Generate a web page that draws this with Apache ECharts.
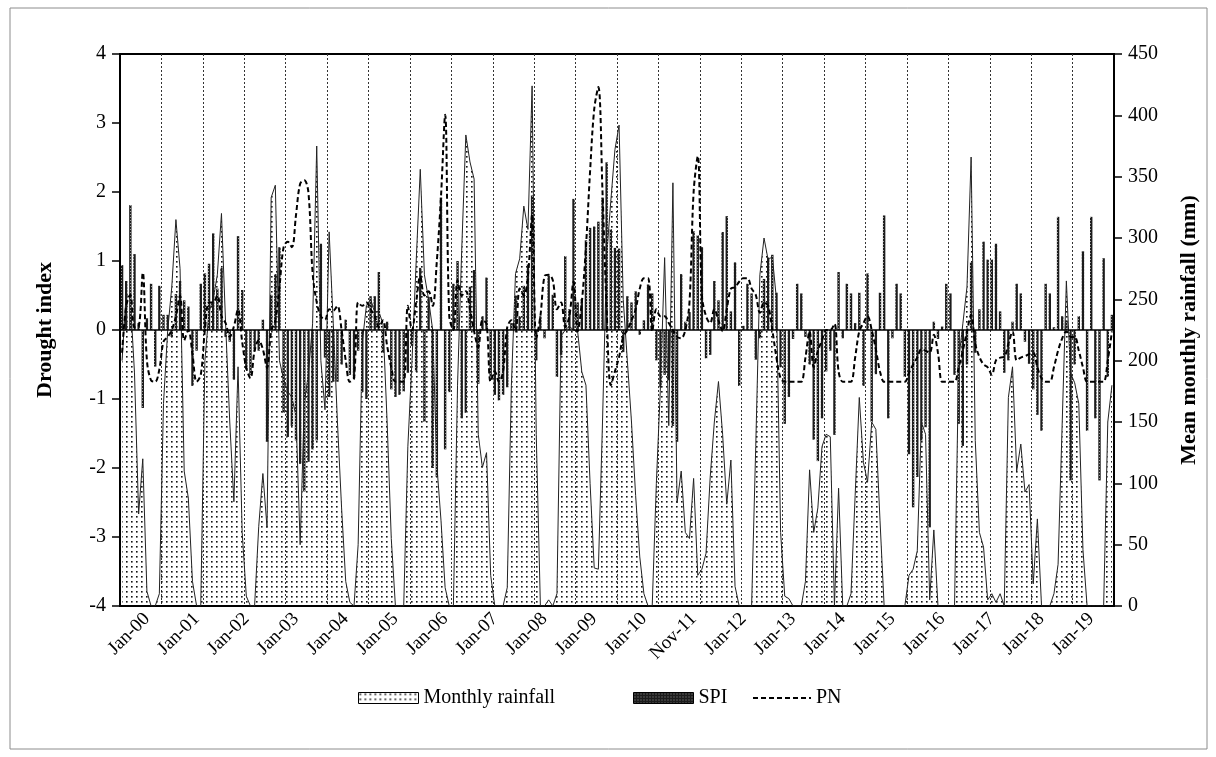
<!DOCTYPE html>
<html>
<head>
<meta charset="utf-8">
<script src="https://cdn.jsdelivr.net/npm/echarts@6/dist/echarts.min.js"></script>
<style>
  html, body { margin: 0; padding: 0; background: #fff; }
  #chart { width: 1216px; height: 757px; }
</style>
</head>
<body>
<div id="chart"></div>
<script>
// tick labels shown once a year (as printed on the original)
const tickLabels = ['Jan-00', 'Jan-01', 'Jan-02', 'Jan-03', 'Jan-04', 'Jan-05', 'Jan-06', 'Jan-07',
    'Jan-08', 'Jan-09', 'Jan-10', 'Nov-11', 'Jan-12', 'Jan-13', 'Jan-14', 'Jan-15', 'Jan-16',
    'Jan-17', 'Jan-18', 'Jan-19'];

// mean monthly rainfall (mm), Jan 2000 .. Dec 2019
const rainfall = [
    200, 255, 250, 190, 75, 120, 12, 0, 0, 10, 165, 224,
    260, 315, 275, 110, 88, 20, 0, 0, 200, 240, 250, 270,
    320, 230, 150, 85, 195, 60, 8, 0, 0, 65, 108, 64,
    333, 343, 200, 185, 175, 170, 155, 50, 165, 190, 230, 375,
    200, 160, 305, 230, 150, 80, 20, 3, 0, 50, 215, 245,
    250, 240, 240, 230, 150, 55, 0, 0, 0, 130, 200, 280,
    356, 270, 250, 225, 115, 70, 15, 0, 0, 180, 290, 384,
    362, 348, 140, 113, 125, 25, 0, 0, 0, 15, 180, 271,
    283, 326, 307, 424, 140, 0, 0, 5, 0, 10, 220, 225,
    228, 225, 224, 191, 180, 100, 31, 30, 150, 285, 330, 372,
    392, 250, 200, 150, 90, 40, 10, 0, 0, 100, 180, 284,
    147, 345, 84, 110, 60, 55, 104, 25, 30, 43, 105, 150,
    183, 140, 83, 119, 16, 0, 0, 0, 0, 130, 270, 300,
    282, 285, 250, 60, 8, 6, 0, 0, 0, 20, 111, 60,
    80, 130, 140, 138, 0, 96, 0, 0, 10, 90, 170, 117,
    101, 150, 144, 70, 0, 0, 0, 0, 0, 0, 25, 30,
    45, 150, 140, 5, 62, 0, 0, 0, 0, 0, 200, 230,
    260, 366, 135, 60, 48, 5, 10, 3, 10, 0, 170, 195,
    110, 132, 93, 99, 18, 71, 0, 0, 0, 10, 34, 150,
    265, 190, 182, 165, 46, 0, 0, 0, 0, 0, 150, 180
];

// SPI
const spi = [
    0.94, 0.71, 1.81, 1.10, 0.10, -1.13, 0.17, 0.67, -0.53, 0.64, 0.22, 0.22,
    -0.1, 0.52, 0.71, 0.43, 0.34, -0.81, -0.3, 0.67, 0.82, 0.96, 1.40, 0.6,
    0.9, -0.1, -0.17, -0.72, 1.36, 0.58, -0.57, -0.65, -0.3, -0.3, 0.15, -1.62,
    0.51, 0.81, 1.2, -1.2, -1.55, -1.39, -1.6, -1.94, -2.34, -1.91, -1.73, -1.6,
    1.25, -0.4, -0.97, -0.75, -0.75, -0.5, 0.15, -0.65, -0.7, -0.3, -0.9, -1.0,
    0.49, 0.49, 0.84, -0.33, 0.12, -0.86, -0.97, -0.94, -0.89, -0.62, -0.23, -0.6,
    0.9, -1.33, 0.48, -2.0, -2.13, 1.92, -1.73, -0.9, 0.67, 1.0, -1.28, -1.2,
    0.63, 0.87, -0.78, 0.2, 0.76, -0.68, -0.94, -1.02, -0.94, -0.83, 0.1, 0.5,
    0.2, 0.64, 0.95, 1.95, -0.44, 0.2, -0.12, 0.79, 0.51, -0.68, -0.36, 1.07,
    0.3, 1.9, 0.4, 0.45, 1.3, 1.48, 1.5, 1.57, 1.92, 2.43, 1.46, 1.19,
    1.18, -0.32, 0.49, 0.4, 0.56, -0.07, 0.14, 0.66, 0.53, -0.44, -0.83, -0.65,
    -0.73, -1.39, -1.62, 0.81, 0.12, 0.26, 1.43, 1.37, 1.2, -0.41, -0.36, 0.71,
    0.43, 1.42, 1.65, 0.27, 0.98, -0.81, 0.06, 0.67, 0.53, -0.43, -0.12, 0.74,
    1.05, 1.09, 0.54, -0.54, -1.36, -0.97, -0.13, 0.67, 0.53, -0.1, -0.5, -1.59,
    -1.9, -1.28, -0.6, -0.3, -1.52, 0.84, -0.12, 0.67, 0.53, 0.1, 0.54, -0.81,
    0.82, -1.33, -0.64, 0.54, 1.66, -1.28, -0.12, 0.67, 0.53, -0.68, -1.8, -2.57,
    -2.13, -1.6, -1.41, -2.86, 0.12, -0.13, 0.05, 0.67, 0.53, -0.65, -1.36, -1.68,
    -0.5, 0.98, -0.33, 0.3, 1.28, 1.02, 1.02, 1.25, 0.27, -0.62, -0.44, 0.12,
    0.67, 0.53, -0.17, -0.49, -0.86, -1.23, -1.46, 0.67, 0.53, 0.04, 1.64, 0.2,
    0.14, -2.18, -0.5, 0.2, 1.14, -1.46, 1.64, -1.28, -2.18, 1.04, -0.68, 0.22
];

// PN
const pn = [
    -0.33, 0.35, 0.51, 0.04, 0.05, 0.83, -0.44, -0.73, -0.75, -0.57, -0.17, -0.1,
    0.0, 0.2, 0.5, -0.15, 0.0, -0.35, -0.75, -0.65, 0.0, 0.4, 0.4, 0.5,
    0.2, 0.1, -0.1, 0.05, 0.3, -0.17, -0.55, -0.7, -0.3, -0.15, -0.28, -0.55,
    -0.02, 0.14, 0.62, 1.2, 1.28, 1.2, 1.67, 2.12, 2.17, 1.99, 0.83, 0.4,
    0.2, 0.15, 0.3, 0.28, 0.35, 0.0, -0.44, -0.75, -0.7, 0.4, 0.35, 0.4,
    0.3, 0.2, 0.04, 0.14, -0.23, -0.54, -0.75, -0.75, -0.75, 0.35, 0.0, 0.4,
    0.78, 0.5, 0.56, 0.35, 1.0, 1.93, 3.12, 0.2, 0.0, 0.72, 0.5, 0.56,
    0.3, -0.02, -0.25, 0.14, 0.09, -0.75, -0.6, -0.75, -0.6, 0.04, 0.14, -0.02,
    0.6, 0.5, 0.78, 1.67, -0.12, 0.2, 0.78, 0.8, 0.72, 0.3, 0.4, 0.04,
    0.2, 0.7, -0.02, 0.4, 1.2, 2.3, 3.2, 3.52, 2.0, 0.3, -0.8, -0.6,
    -0.39, -0.1, 0.0, 0.14, 0.3, 0.6, 0.75, 0.75, -0.02, 0.3, 0.2, 0.2,
    0.1, 0.0, -0.1, -0.12, 0.0, 0.4, 2.0, 2.52, 0.5, 0.2, 0.1, 0.3,
    0.14, -0.02, 0.3, 0.6, 0.62, 0.7, 0.75, 0.75, 0.6, 0.51, 0.25, 0.4,
    0.35, 0.0, -0.4, -0.7, -0.75, -0.75, -0.75, -0.75, -0.75, -0.4, -0.02, -0.54,
    -0.3, -0.15, 0.0, 0.0, 0.09, -0.6, -0.75, -0.75, -0.75, -0.4, -0.02, 0.1,
    0.2, 0.0, -0.28, -0.6, -0.75, -0.75, -0.75, -0.75, -0.75, -0.75, -0.62, -0.5,
    -0.4, -0.28, -0.3, -0.33, -0.07, -0.33, -0.75, -0.75, -0.75, -0.75, -0.54, -0.3,
    -0.02, 0.22, -0.2, -0.39, -0.5, -0.54, -0.65, -0.44, -0.4, -0.39, -0.2, -0.02,
    -0.44, -0.4, -0.38, -0.35, -0.33, -0.54, -0.7, -0.75, -0.75, -0.54, -0.3, -0.12,
    -0.02, -0.1, -0.1, -0.3, -0.54, -0.75, -0.75, -0.75, -0.75, -0.75, -0.44, -0.02
];

const monthNames = ['Jan', 'Feb', 'Mar', 'Apr', 'May', 'Jun', 'Jul', 'Aug', 'Sep', 'Oct', 'Nov', 'Dec'];
const months = rainfall.map(function (v, i) {
    return monthNames[i % 12] + '-' + String(Math.floor(i / 12)).padStart(2, '0');
});

const FONT = 'Liberation Serif, Times New Roman, serif';

// dotted fill for the rainfall area
function makeDots() {
    const c = document.createElement('canvas');
    c.width = 5; c.height = 5;
    const ctx = c.getContext('2d');
    ctx.fillStyle = '#111';
    ctx.fillRect(1, 1, 1.6, 1.6);
    return c;
}

// dark fill with light specks for the SPI bars
function makeSpi() {
    const c = document.createElement('canvas');
    c.width = 3; c.height = 3;
    const ctx = c.getContext('2d');
    ctx.fillStyle = '#1c1c1c';
    ctx.fillRect(0, 0, 3, 3);
    ctx.fillStyle = '#9a9a9a';
    ctx.fillRect(1, 1, 1, 1);
    return c;
}

const dots = { image: makeDots(), repeat: 'repeat' };
const spiFill = { image: makeSpi(), repeat: 'repeat' };

let chart = echarts.init(document.getElementById('chart'));

const legendText = { fontFamily: FONT, fontSize: 20, color: '#000' };
const nameText = { fontFamily: FONT, fontSize: 22, fontWeight: 'bold', color: '#000' };

const option = {
    animation: false,
    backgroundColor: '#fff',
    graphic: [{
        type: 'rect',
        shape: { x: 10, y: 8, width: 1197, height: 741 },
        style: { fill: null, stroke: '#8c8c8c', lineWidth: 1 },
        silent: true
    }],
    grid: {
        left: 120, right: 102, top: 54, bottom: 151,
        show: true, borderColor: '#000', borderWidth: 2
    },
    // one legend per entry so each can sit where the original puts it
    legend: [{
        top: 688, left: 358, padding: 0, itemWidth: 60, itemHeight: 11, itemGap: 0,
        textStyle: legendText,
        data: [{ name: 'Monthly rainfall', icon: 'rect', itemStyle: { color: dots, borderColor: '#000', borderWidth: 1 } }]
    }, {
        top: 688, left: 633, padding: 0, itemWidth: 60, itemHeight: 11, itemGap: 0,
        textStyle: legendText,
        data: [{ name: 'SPI', icon: 'rect', itemStyle: { color: spiFill, borderColor: '#000', borderWidth: 1 } }]
    }, {
        top: 688, left: 752, padding: 0, itemWidth: 58, itemHeight: 11, itemGap: 0,
        textStyle: legendText,
        data: [{ name: 'PN', itemStyle: { opacity: 0 } }]
    }],
    xAxis: {
        type: 'category',
        data: months,
        boundaryGap: true,
        axisLine: { onZero: false, lineStyle: { color: '#000', width: 2 } },
        axisTick: { show: false },
        axisLabel: {
            // the original prints each year's label in the middle of that year
            interval: function (i) { return i % 12 === 6; },
            formatter: function (v, i) { return tickLabels[Math.round((i - 6) / 12)]; },
            rotate: 45, margin: 10,
            fontFamily: FONT, fontSize: 19, color: '#000'
        },
        splitLine: {
            show: true,
            interval: function (i) { return i > 0 && i % 10 === 0; },
            lineStyle: { color: '#333', width: 1, type: [2, 2] }
        }
    },
    yAxis: [{
        type: 'value', min: -4, max: 4, interval: 1,
        name: 'Drought index', nameLocation: 'middle', nameGap: 64,
        nameTextStyle: nameText,
        axisLine: { show: true, lineStyle: { color: '#000', width: 2 } },
        axisTick: { show: true, length: 8, lineStyle: { color: '#000', width: 1.5 } },
        axisLabel: { fontFamily: FONT, fontSize: 20, color: '#000', margin: 14 },
        splitLine: { show: false }
    }, {
        type: 'value', min: 0, max: 450, interval: 50, position: 'right',
        name: 'Mean monthly rainfall (mm)', nameLocation: 'middle', nameGap: 64,
        nameRotate: 90,
        nameTextStyle: nameText,
        axisLine: { show: true, lineStyle: { color: '#000', width: 2 } },
        axisTick: { show: true, length: 8, lineStyle: { color: '#000', width: 1.5 } },
        axisLabel: { fontFamily: FONT, fontSize: 20, color: '#000', margin: 14 },
        splitLine: { show: false }
    }],
    series: [{
        name: 'Monthly rainfall',
        type: 'line',
        yAxisIndex: 1,
        data: rainfall,
        symbol: 'none',
        z: 1,
        lineStyle: { color: '#222', width: 1 },
        itemStyle: { color: '#222' },
        areaStyle: { color: dots, opacity: 1 }
    }, {
        name: 'SPI',
        type: 'bar',
        yAxisIndex: 0,
        data: spi,
        barWidth: 2.4,
        z: 2,
        itemStyle: { color: spiFill },
        markLine: {
            silent: true, symbol: 'none', label: { show: false },
            lineStyle: { color: '#000', width: 1.5, type: 'solid' },
            data: [{ yAxis: 0 }]
        }
    }, {
        name: 'PN',
        type: 'line',
        yAxisIndex: 0,
        data: pn,
        symbol: 'none',
        smooth: 0.35,
        z: 3,
        itemStyle: { color: '#000' },
        lineStyle: { color: '#000', width: 2, type: [5, 3] }
    }]
};

chart.setOption(option);
</script>
</body>
</html>
